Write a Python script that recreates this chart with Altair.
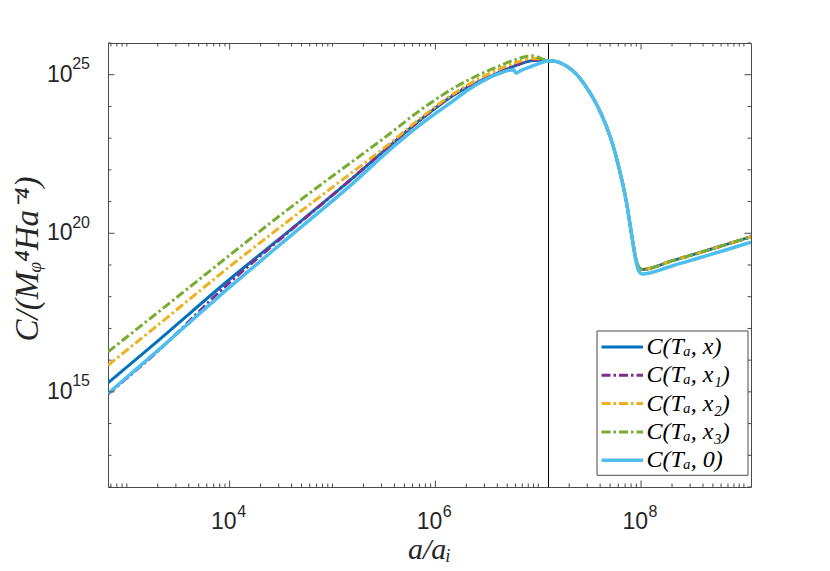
import altair as alt
import numpy as np
import pandas as pd

# ---------------- data (log10 values) ----------------
series_labels = ["C(Tₐ, x)", "C(Tₐ, x₁)", "C(Tₐ, x₂)", "C(Tₐ, x₃)", "C(Tₐ, 0)"]
series_colors = ["#0072BD", "#7E2F8E", "#EDB120", "#77AC30", "#4DBEEE"]

# common descending tail shared by the x, x1, x2, x3 curves
tail_logx = [7.17, 7.27, 7.37, 7.47, 7.57, 7.66, 7.73, 7.79, 7.86, 7.92, 7.95, 7.98, 8.01, 8.30, 8.57, 8.80, 9.069]
tail_logy = [25.42, 25.28, 25.02, 24.60, 24.05, 23.40, 22.74, 22.00, 20.95, 19.72, 19.18, 18.92, 18.86, 19.13, 19.39, 19.62, 19.89]

blue_logx = [2.817, 3.30, 4.00, 4.485, 5.18, 5.553, 5.844, 6.20, 6.623, 6.80, 6.93, 7.00, 7.05, 7.10]
blue_logy = [15.28, 16.60, 18.55, 19.83, 21.70, 22.75, 23.55, 24.40, 25.07, 25.31, 25.44, 25.46, 25.45, 25.44]

purple_logx = [2.817, 3.30, 4.00, 4.485, 5.18, 5.553, 5.844, 6.20, 6.623, 6.80, 6.93, 7.00, 7.05, 7.10]
purple_logy = [14.93, 16.28, 18.45, 19.80, 21.70, 22.75, 23.55, 24.42, 25.08, 25.33, 25.46, 25.47, 25.46, 25.44]

orange_logx = [2.817, 3.30, 4.00, 4.485, 5.084, 5.553, 5.844, 6.20, 6.623, 6.80, 6.93, 7.00, 7.05, 7.10]
orange_logy = [15.84, 17.10, 18.95, 20.18, 21.66, 22.82, 23.60, 24.45, 25.18, 25.40, 25.51, 25.50, 25.47, 25.44]

green_logx = [2.817, 3.30, 4.00, 4.485, 4.906, 5.553, 5.844, 6.20, 6.623, 6.80, 6.934, 7.00, 7.05, 7.10]
green_logy = [16.26, 17.50, 19.31, 20.55, 21.58, 23.13, 23.86, 24.62, 25.28, 25.50, 25.60, 25.55, 25.48, 25.44]

lightblue_logx = [2.817, 3.30, 4.00, 4.485, 5.23, 5.553, 5.844, 6.20, 6.33, 6.525, 6.623, 6.70, 6.76,
                  6.785, 6.83, 6.90, 6.97, 7.03, 7.10, 7.17, 7.27, 7.37, 7.47, 7.57, 7.66, 7.73, 7.79,
                  7.86, 7.92, 7.95, 7.98, 8.01, 8.30, 8.57, 8.80, 9.069]
lightblue_logy = [14.95, 16.30, 18.30, 19.63, 21.67, 22.62, 23.40, 24.24, 24.55, 24.91, 25.04, 25.13, 25.16,
                  25.05, 25.13, 25.22, 25.31, 25.38, 25.44, 25.42, 25.28, 25.02, 24.60, 24.05, 23.40, 22.74, 22.00,
                  20.95, 19.70, 19.12, 18.80, 18.72, 18.97, 19.23, 19.45, 19.72]

vline_logx = 7.10

x_domain_log = [2.817, 9.069]
y_domain_log = [12, 26]

x_major = [1e4, 1e6, 1e8]
x_major_exp = ["4", "6", "8"]
y_major = [1e15, 1e20, 1e25]
y_major_exp = ["15", "20", "25"]

x_title = "a/aᵢ"
y_title = "C/(Mᵩ⁴Ha⁻⁴)"

# ---------------- layout ----------------
W, H = 643, 444
AX = "#4a4a4a"
TXT = "#262626"
DASH = [9, 3, 2.5, 3]

xscale = alt.Scale(type="log", domain=[10 ** x_domain_log[0], 10 ** x_domain_log[1]], nice=False)
yscale = alt.Scale(type="log", domain=[10 ** y_domain_log[0], 10 ** y_domain_log[1]], nice=False)


def frame(lx, ly):
    return pd.DataFrame({"a": 10 ** np.array(lx, dtype=float), "C": 10 ** np.array(ly, dtype=float)})


curves = [
    (blue_logx + tail_logx, blue_logy + tail_logy, None, 3),
    (purple_logx + tail_logx, purple_logy + tail_logy, DASH, 3),
    (orange_logx + tail_logx, orange_logy + tail_logy, DASH, 3),
    (green_logx + tail_logx, green_logy + tail_logy, DASH, 3),
    (lightblue_logx, lightblue_logy, None, 3.5),
]

layers = []

# vertical line
layers.append(
    alt.Chart(pd.DataFrame({"a": [10 ** vline_logx]}))
    .mark_rule(color="black", strokeWidth=1)
    .encode(x=alt.X("a:Q", scale=xscale, axis=None), y=alt.value(0), y2=alt.value(H))
)

for (lx, ly, dash, sw), col in zip(curves, series_colors):
    kw = dict(color=col, strokeWidth=sw, clip=True, interpolate="monotone")
    if dash:
        kw["strokeDash"] = dash
    layers.append(
        alt.Chart(frame(lx, ly)).mark_line(**kw).encode(
            x=alt.X("a:Q", scale=xscale, axis=None),
            y=alt.Y("C:Q", scale=yscale, axis=None),
        )
    )

# tick marks (inward, on all four sides)
xlo, xhi = 10 ** x_domain_log[0], 10 ** x_domain_log[1]
x_minor = [k * 10.0 ** n for n in range(2, 10) for k in range(1, 10)]
x_minor = [v for v in x_minor if xlo <= v <= xhi and v not in x_major]
y_minor = [10.0 ** n for n in range(y_domain_log[0], y_domain_log[1] + 1) if 10.0 ** n not in y_major]

for vals, L in [(x_major, 6.5), (x_minor, 3.5)]:
    d = pd.DataFrame({"v": vals})
    ex = alt.X("v:Q", scale=xscale, axis=None)
    layers.append(alt.Chart(d).mark_rule(color=AX, strokeWidth=1).encode(x=ex, y=alt.value(H), y2=alt.value(H - L)))
    layers.append(alt.Chart(d).mark_rule(color=AX, strokeWidth=1).encode(x=ex, y=alt.value(0), y2=alt.value(L)))
for vals, L in [(y_major, 6.5), (y_minor, 3.5)]:
    d = pd.DataFrame({"v": vals})
    ey = alt.Y("v:Q", scale=yscale, axis=None)
    layers.append(alt.Chart(d).mark_rule(color=AX, strokeWidth=1).encode(y=ey, x=alt.value(0), x2=alt.value(L)))
    layers.append(alt.Chart(d).mark_rule(color=AX, strokeWidth=1).encode(y=ey, x=alt.value(W), x2=alt.value(W - L)))

# tick labels 10^n
xl = pd.DataFrame({"v": x_major, "e": x_major_exp, "b": ["10"] * len(x_major)})
layers.append(
    alt.Chart(xl).mark_text(font="Liberation Sans", fontSize=23, color=TXT, align="right", baseline="alphabetic", dx=7)
    .encode(x=alt.X("v:Q", scale=xscale, axis=None), y=alt.value(H + 42), text="b:N")
)
layers.append(
    alt.Chart(xl).mark_text(font="Liberation Sans", fontSize=16, color=TXT, align="left", baseline="alphabetic", dx=7.5)
    .encode(x=alt.X("v:Q", scale=xscale, axis=None), y=alt.value(H + 30), text="e:N")
)
yl = pd.DataFrame({"v": y_major, "e": y_major_exp, "b": ["10"] * len(y_major)})
layers.append(
    alt.Chart(yl).mark_text(font="Liberation Sans", fontSize=23, color=TXT, align="right", baseline="alphabetic", dy=7)
    .encode(y=alt.Y("v:Q", scale=yscale, axis=None), x=alt.value(-35.5), text="b:N")
)
layers.append(
    alt.Chart(yl).mark_text(font="Liberation Sans", fontSize=16, color=TXT, align="right", baseline="alphabetic", dy=-5.5)
    .encode(y=alt.Y("v:Q", scale=yscale, axis=None), x=alt.value(-18), text="e:N")
)

# axis titles
layers.append(
    alt.Chart(pd.DataFrame({"t": [x_title]}))
    .mark_text(font="Liberation Serif", fontStyle="italic", fontSize=30, color=TXT, align="center", baseline="middle")
    .encode(x=alt.value(W / 2), y=alt.value(H + 63), text="t:N")
)
layers.append(
    alt.Chart(pd.DataFrame({"t": [y_title]}))
    .mark_text(font="Liberation Serif", fontStyle="italic", fontSize=33, color=TXT, align="center",
               baseline="middle", angle=270)
    .encode(x=alt.value(-80), y=alt.value(216), text="t:N")
)

# legend
LX0, LX1, LY0, LY1 = 489, 640, 288, 432.3
layers.append(
    alt.Chart(pd.DataFrame({"t": [0]}))
    .mark_rect(fill="white", stroke=AX, strokeWidth=1)
    .encode(x=alt.value(LX0), x2=alt.value(LX1), y=alt.value(LY0), y2=alt.value(LY1))
)
for i, (lab, col, cur) in enumerate(zip(series_labels, series_colors, curves)):
    yy = 304 + i * 28.3
    kw = dict(color=col, strokeWidth=cur[3])
    if cur[2]:
        kw["strokeDash"] = cur[2]
    layers.append(
        alt.Chart(pd.DataFrame({"t": [lab]})).mark_rule(**kw)
        .encode(x=alt.value(493.5), x2=alt.value(535), y=alt.value(yy))
    )
    layers.append(
        alt.Chart(pd.DataFrame({"t": [lab]}))
        .mark_text(font="Liberation Serif", fontStyle="italic", fontSize=24, color="black", align="left", baseline="middle")
        .encode(x=alt.value(538.5), y=alt.value(yy), text="t:N")
    )

chart = (
    alt.layer(*layers)
    .properties(width=W, height=H, padding={"left": 100, "top": 35, "right": 70, "bottom": 78},
                autosize=alt.AutoSizeParams(type="none"))
    .configure_view(stroke=AX, strokeWidth=1)
)

chart.save("out.html", embed_options={"renderer": "svg", "actions": False})
